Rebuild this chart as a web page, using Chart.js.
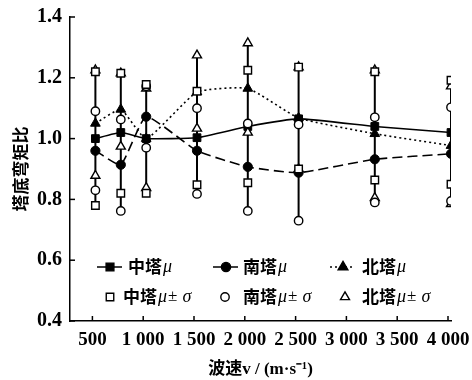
<!DOCTYPE html>
<html>
<head>
<meta charset="utf-8">
<script src="https://cdn.jsdelivr.net/npm/chart.js@4"></script>
<style>
  html, body { margin: 0; background: #fff; }
  #wrap { width: 472px; height: 380px; }
</style>
</head>
<body>
<div id="wrap"><canvas id="chart"></canvas></div>
<script>
// wave speed (m/s) for each measured column
const speeds = [500, 750, 1000, 1500, 2000, 2500, 3250, 4000];

// middle tower
const midMean = [1.00, 1.02, 1.00, 1.003, 1.04, 1.065, 1.04, 1.02];
const midUp   = [1.22, 1.215, 1.178, 1.156, 1.225, 1.235, 1.22, 1.192];
const midLo   = [0.78, 0.82, 0.82, 0.848, 0.855, 0.90, 0.864, 0.85];

// south tower
const southMean = [0.96, 0.914, 1.072, 0.96, 0.907, 0.888, 0.932, 0.95];
const southUp   = [1.09, 1.063, 1.172, 1.10, 1.05, 1.046, 1.07, 1.103];
const southLo   = [0.83, 0.762, 0.97, 0.818, 0.762, 0.73, 0.79, 0.795];

// north tower
const northMean = [1.05, 1.096, 1.00, 1.153, 1.165, 1.068, 1.016, 0.977];
const northUp   = [1.225, 1.215, 1.165, 1.274, 1.314, 1.235, 1.225, 1.172];
const northLo   = [0.878, 0.974, 0.838, 1.033, 1.02, 0.90, 0.805, 0.785];

const xTicks = [500, 1000, 1500, 2000, 2500, 3000, 3500, 4000];
const xTickLabels = ['500', '1 000', '1 500', '2 000', '2 500', '3 000', '3 500', '4 000'];
const yTicks = [0.4, 0.6, 0.8, 1.0, 1.2, 1.4];

const pts = arr => speeds.map((x, i) => ({ x: x, y: arr[i] }));
const band = (up, lo) => speeds.flatMap((x, i) => [{ x: x, y: up[i] }, { x: x, y: lo[i] }]);

// one vertical whisker per column, from lowest to highest bound
const whiskers = speeds.flatMap((x, i) => {
  const lo = Math.min(midLo[i], southLo[i], northLo[i]);
  const hi = Math.max(midUp[i], southUp[i], northUp[i]);
  return [{ x: x, y: lo }, { x: x, y: hi }, { x: x, y: null }];
});

const openMark = (label, data, style, r) => ({
  label: label, data: data, showLine: false,
  pointStyle: style, pointRadius: r, pointBackgroundColor: '#fff',
  pointBorderColor: '#000', pointBorderWidth: 1.4, borderColor: '#000'
});
const meanLine = (label, data, style, r, dash) => ({
  label: label, data: data, borderColor: '#000', borderWidth: 1.6,
  borderDash: dash, tension: 0.15, pointStyle: style, pointRadius: r,
  pointBackgroundColor: '#000', pointBorderColor: '#000', pointBorderWidth: 1
});

const datasets = [
  openMark('中塔μ± σ', band(midUp, midLo), 'rect', 5.3),
  openMark('南塔μ± σ', band(southUp, southLo), 'circle', 4.2),
  openMark('北塔μ± σ', band(northUp, northLo), 'triangle', 5.2),
  meanLine('中塔μ', pts(midMean), 'rect', 5.5, []),
  meanLine('南塔μ', pts(southMean), 'circle', 4.6, [10, 5]),
  meanLine('北塔μ', pts(northMean), 'triangle', 5.6, [2, 3]),
  { label: 'whisker', data: whiskers, borderColor: '#000', borderWidth: 2,
    pointRadius: 0, spanGaps: false }
];

function drawMark(ctx, style, x, y, r, filled) {
  ctx.save();
  ctx.setLineDash([]);
  ctx.lineWidth = 1.4;
  ctx.strokeStyle = '#000';
  ctx.fillStyle = filled ? '#000' : '#fff';
  ctx.beginPath();
  if (style === 'rect') {
    const s = r * Math.SQRT1_2;
    ctx.rect(x - s, y - s, 2 * s, 2 * s);
  } else if (style === 'circle') {
    ctx.arc(x, y, r, 0, Math.PI * 2);
  } else {
    ctx.moveTo(x, y - r);
    ctx.lineTo(x + r * 0.866, y + r * 0.5);
    ctx.lineTo(x - r * 0.866, y + r * 0.5);
    ctx.closePath();
  }
  ctx.fill();
  ctx.stroke();
  ctx.restore();
}

// legend laid out like the figure: two rows of three, inside the plot
const legendItems = [
  { ds: 3, line: true,  x: 97,  y: 267, tx: 128, name: '中塔', tail: '' },
  { ds: 4, line: true,  x: 213, y: 267, tx: 243, name: '南塔', tail: '' },
  { ds: 5, line: true,  x: 330, y: 267, tx: 362, name: '北塔', tail: '' },
  { ds: 0, line: false, x: 110, y: 297, tx: 123, name: '中塔', tail: 'σ' },
  { ds: 1, line: false, x: 225, y: 297, tx: 243, name: '南塔', tail: 'σ' },
  { ds: 2, line: false, x: 345, y: 297, tx: 362, name: '北塔', tail: 'σ' }
];

const figurePlugin = {
  id: 'figure',
  afterDraw(chart) {
    const ctx = chart.ctx;
    const xs = chart.scales.x, ys = chart.scales.y;
    ctx.save();
    ctx.strokeStyle = '#000';
    ctx.lineWidth = 1.5;
    // inward tick marks
    xTicks.forEach(v => {
      const px = xs.getPixelForValue(v) - 3;
      ctx.beginPath(); ctx.moveTo(px, ys.bottom); ctx.lineTo(px, ys.bottom - 5); ctx.stroke();
    });
    yTicks.forEach(v => {
      const py = ys.getPixelForValue(v);
      ctx.beginPath(); ctx.moveTo(xs.left, py); ctx.lineTo(xs.left + 5, py); ctx.stroke();
    });

    legendItems.forEach(it => {
      const ds = chart.data.datasets[it.ds];
      if (it.line) {
        ctx.save();
        ctx.lineWidth = 1.5;
        ctx.setLineDash(ds.borderDash || []);
        ctx.beginPath(); ctx.moveTo(it.x, it.y); ctx.lineTo(it.x + 25, it.y); ctx.stroke();
        ctx.restore();
        drawMark(ctx, ds.pointStyle, it.x + 13, it.y, ds.pointRadius, true);
      } else {
        drawMark(ctx, ds.pointStyle, it.x, it.y, ds.pointRadius, false);
      }
      ctx.fillStyle = '#000';
      ctx.textBaseline = 'middle';
      let x = it.tx;
      const parts = [
        { t: it.name, f: 'bold 17px "Noto Sans CJK SC"' },
        { t: 'μ', f: 'italic 18px "Liberation Serif"' }
      ];
      if (it.tail) {
        parts.push({ t: '± ', f: '17px "Liberation Serif"' });
        parts.push({ t: 'σ', f: 'italic 18px "Liberation Serif"' });
      }
      parts.forEach(p => {
        ctx.font = p.f;
        ctx.fillText(p.t, x, it.y);
        x += ctx.measureText(p.t).width + 1;
      });
    });
    ctx.restore();
  }
};

new Chart(document.getElementById('chart'), {
  type: 'line',
  data: { datasets: datasets },
  options: {
    responsive: true,
    maintainAspectRatio: false,
    animation: false,
    layout: { padding: { top: 17, right: 21, left: 0, bottom: 0 } },
    plugins: { legend: { display: false }, tooltip: { enabled: false } },
    scales: {
      x: {
        type: 'linear', min: 250, max: 4000,
        afterBuildTicks: s => { s.ticks = xTicks.map(v => ({ value: v })); },
        afterFit: s => { s.height = 59; s.paddingLeft = 0; s.paddingRight = 0; },
        grid: { display: false, drawTicks: false },
        border: { display: true, color: '#000', width: 1.5 },
        ticks: {
          color: '#000', padding: 8, labelOffset: -3, maxRotation: 0, autoSkip: false,
          font: { family: '"Liberation Serif"', size: 19, weight: 'bold' },
          callback: v => xTickLabels[xTicks.indexOf(v)]
        },
        title: {
          display: true, text: '波速v / (m·s⁻¹)', color: '#000',
          font: { family: '"Liberation Serif", "Noto Sans CJK SC"', size: 17, weight: 'bold' },
          padding: { top: 0, bottom: 0 }
        }
      },
      y: {
        min: 0.4, max: 1.4,
        afterBuildTicks: s => { s.ticks = yTicks.map(v => ({ value: v })); },
        afterFit: s => { s.width = 70; s.paddingTop = 0; s.paddingBottom = 0; },
        grid: { display: false, drawTicks: false },
        border: { display: true, color: '#000', width: 1.5 },
        ticks: {
          color: '#000', padding: 8,
          font: { family: '"Liberation Serif"', size: 20, weight: 'bold' },
          callback: v => v.toFixed(1)
        },
        title: {
          display: true, text: '塔底弯矩比', color: '#000',
          font: { family: '"Noto Sans CJK SC"', size: 17, weight: 'bold' },
          padding: { top: 10, bottom: 0 }
        }
      }
    }
  },
  plugins: [figurePlugin]
});
</script>
</body>
</html>
